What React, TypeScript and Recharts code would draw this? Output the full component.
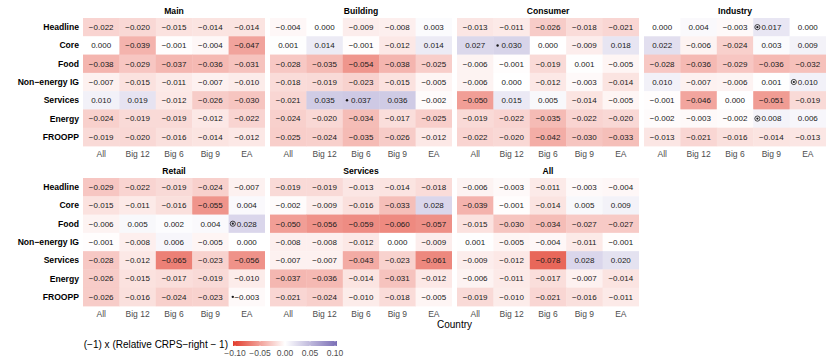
import React from "react";
import { ScatterChart, Scatter, XAxis, YAxis } from "recharts";

const countries = ["All", "Big 12", "Big 6", "Big 9", "EA"];
const variables = ["Headline", "Core", "Food", "Non−energy IG", "Services", "Energy", "FROOPP"];
const panelTitles = ["Main", "Building", "Consumer", "Industry", "Retail", "Services", "All"];

// rows follow `variables`, columns follow `countries`
const mainValues = [
  [-0.022, -0.02, -0.015, -0.014, -0.014],
  [0.0, -0.039, -0.001, -0.004, -0.047],
  [-0.038, -0.029, -0.037, -0.036, -0.031],
  [-0.007, -0.015, -0.011, -0.007, -0.01],
  [0.01, 0.019, -0.012, -0.026, -0.03],
  [-0.024, -0.019, -0.019, -0.012, -0.022],
  [-0.019, -0.02, -0.016, -0.014, -0.012],
];
const buildingValues = [
  [-0.004, 0.0, -0.009, -0.008, 0.003],
  [0.001, 0.014, -0.001, -0.012, 0.014],
  [-0.028, -0.035, -0.054, -0.038, -0.025],
  [-0.018, -0.019, -0.023, -0.015, -0.005],
  [-0.021, 0.035, 0.037, 0.036, -0.002],
  [-0.024, -0.02, -0.034, -0.017, -0.025],
  [-0.025, -0.024, -0.035, -0.026, -0.012],
];
const consumerValues = [
  [-0.013, -0.011, -0.026, -0.018, -0.021],
  [0.027, 0.03, 0.0, -0.009, 0.018],
  [-0.006, -0.001, -0.019, 0.001, -0.005],
  [-0.006, 0.0, -0.012, -0.003, -0.014],
  [-0.05, 0.015, 0.005, -0.014, -0.005],
  [-0.019, -0.022, -0.035, -0.022, -0.02],
  [-0.022, -0.02, -0.042, -0.03, -0.033],
];
const industryValues = [
  [0.0, 0.004, -0.003, 0.017, 0.0],
  [0.022, -0.006, -0.024, 0.003, 0.009],
  [-0.028, -0.036, -0.029, -0.036, -0.032],
  [0.01, -0.007, -0.006, 0.001, 0.01],
  [-0.001, -0.046, 0.0, -0.051, -0.019],
  [-0.002, -0.003, -0.002, 0.008, 0.006],
  [-0.013, -0.021, -0.016, -0.014, -0.013],
];
const retailValues = [
  [-0.029, -0.022, -0.019, -0.024, -0.007],
  [-0.015, -0.011, -0.016, -0.055, 0.004],
  [-0.006, 0.005, 0.002, 0.004, 0.028],
  [-0.001, -0.008, 0.006, -0.005, 0.0],
  [-0.028, -0.012, -0.065, -0.023, -0.056],
  [-0.026, -0.015, -0.017, -0.019, -0.01],
  [-0.026, -0.016, -0.024, -0.023, -0.003],
];
const servicesValues = [
  [-0.019, -0.019, -0.013, -0.014, -0.018],
  [-0.002, -0.009, -0.016, -0.033, 0.028],
  [-0.05, -0.056, -0.059, -0.06, -0.057],
  [-0.008, -0.008, -0.012, 0.0, -0.009],
  [-0.007, -0.007, -0.043, -0.023, -0.061],
  [-0.037, -0.036, -0.014, -0.031, -0.012],
  [-0.021, -0.024, -0.01, -0.018, -0.005],
];
const allValues = [
  [-0.006, -0.003, -0.011, -0.003, -0.004],
  [-0.039, -0.001, -0.014, 0.005, 0.009],
  [-0.015, -0.03, -0.034, -0.027, -0.027],
  [0.001, -0.005, -0.004, -0.011, -0.001],
  [-0.009, -0.012, -0.078, 0.028, 0.02],
  [-0.006, -0.011, -0.017, -0.007, -0.014],
  [-0.019, -0.01, -0.021, -0.016, -0.011],
];
const panelValues = [
  mainValues,
  buildingValues,
  consumerValues,
  industryValues,
  retailValues,
  servicesValues,
  allValues,
];

const markers = [
  { panel: "Building", variable: "Services", country: "Big 6", kind: "dot" },
  { panel: "Consumer", variable: "Core", country: "Big 12", kind: "dot" },
  { panel: "Industry", variable: "Headline", country: "Big 9", kind: "ring" },
  { panel: "Industry", variable: "Non−energy IG", country: "EA", kind: "ring" },
  { panel: "Industry", variable: "Energy", country: "Big 9", kind: "ring" },
  { panel: "Retail", variable: "Food", country: "EA", kind: "ring" },
  { panel: "Retail", variable: "FROOPP", country: "EA", kind: "dot" },
];

const legendTicks = [-0.1, -0.05, 0, 0.05, 0.1];

const FONT = '"Liberation Sans", Arial, Helvetica, sans-serif';
const LABEL_W = 83;
const PANEL_W = 182;
const GAP = 5;
const CELLS_H = 128;
const AXIS_H = 18;
const ROW_TOPS = [18, 178];
const CELL_W = PANEL_W / countries.length;
const CELL_H = CELLS_H / variables.length;

const LOW = [226, 60, 44];
const HIGH = [122, 110, 182];

function fillFor(v: number) {
  const t = Math.max(-1, Math.min(1, v / 0.1));
  const end = t < 0 ? LOW : HIGH;
  const a = Math.abs(t);
  const c = end.map((e) => Math.round(255 + (e - 255) * a));
  return `rgb(${c[0]},${c[1]},${c[2]})`;
}

function fmt(v: number, digits = 3) {
  const s = Math.abs(v).toFixed(digits);
  return v < 0 && Number(s) !== 0 ? "−" + s : s;
}

function TileShape(props: any) {
  const { cx, cy, payload } = props;
  if (cx == null || cy == null) return null;
  const mx = cx - 14;
  return (
    <g>
      <rect
        x={cx - CELL_W / 2}
        y={cy - CELL_H / 2}
        width={CELL_W + 0.4}
        height={CELL_H + 0.4}
        fill={fillFor(payload.value)}
      />
      {payload.mark === "dot" && <circle cx={mx} cy={cy} r={1.2} fill="#1a1a1a" />}
      {payload.mark === "ring" && (
        <g>
          <circle cx={mx} cy={cy} r={2.6} fill="none" stroke="#1a1a1a" strokeWidth={0.8} />
          <circle cx={mx} cy={cy} r={1.1} fill="#1a1a1a" />
        </g>
      )}
      <text
        x={cx}
        y={cy}
        dy="0.35em"
        textAnchor="middle"
        fontSize={8}
        fill="#1a1a1a"
        fontFamily={FONT}
      >
        {fmt(payload.value)}
      </text>
    </g>
  );
}

function RowTick(props: any) {
  const { x, y, payload } = props;
  return (
    <text
      x={x}
      y={y}
      dy="0.35em"
      textAnchor="end"
      fontSize={8.6}
      fontWeight="bold"
      fill="#000"
      fontFamily={FONT}
    >
      {variables[payload.value]}
    </text>
  );
}

function Panel({ index }: { index: number }) {
  const title = panelTitles[index];
  const values = panelValues[index];
  const col = index % 4;
  const row = Math.floor(index / 4);
  const withLabels = col === 0;
  const cellsLeft = LABEL_W + col * (PANEL_W + GAP);
  const chartLeft = withLabels ? 0 : cellsLeft;
  const width = (withLabels ? LABEL_W : 0) + PANEL_W;
  const top = ROW_TOPS[row];

  const cells = variables.flatMap((v, r) =>
    countries.map((c, k) => {
      const m = markers.find((x) => x.panel === title && x.variable === v && x.country === c);
      return { col: k, row: r, value: values[r][k], mark: m ? m.kind : null };
    })
  );

  return (
    <>
      <div
        style={{
          position: "absolute",
          left: cellsLeft,
          top: top - 12,
          width: PANEL_W,
          textAlign: "center",
          fontSize: 8.6,
          fontWeight: "bold",
          lineHeight: "11px",
          color: "#000",
        }}
      >
        {title}
      </div>
      <div style={{ position: "absolute", left: chartLeft, top }}>
        <ScatterChart
          width={width}
          height={CELLS_H + AXIS_H}
          margin={{ top: 0, right: 0, bottom: 0, left: 0 }}
        >
          <XAxis
            type="number"
            dataKey="col"
            domain={[-0.5, 4.5]}
            ticks={[0, 1, 2, 3, 4]}
            interval={0}
            tickFormatter={(i: number) => countries[i]}
            axisLine={false}
            tickLine={false}
            tickSize={0}
            tickMargin={5}
            height={AXIS_H}
            tick={{ fontSize: 8.5, fill: "#4d4d4d", fontFamily: FONT }}
          />
          <YAxis
            type="number"
            dataKey="row"
            domain={[-0.5, 6.5]}
            reversed
            ticks={[0, 1, 2, 3, 4, 5, 6]}
            interval={0}
            hide={!withLabels}
            width={withLabels ? LABEL_W : 0}
            axisLine={false}
            tickLine={false}
            tickSize={0}
            tickMargin={4}
            tick={<RowTick />}
          />
          <Scatter data={cells} shape={TileShape} isAnimationActive={false} />
        </ScatterChart>
      </div>
    </>
  );
}

function Legend() {
  const x0 = 235;
  const x1 = 335;
  const pos = (v: number) => x0 + ((v + 0.1) / 0.2) * (x1 - x0);
  const stops = [-0.1, -0.075, -0.05, -0.025, 0, 0.025, 0.05, 0.075, 0.1];
  return (
    <svg
      width={830}
      height={33}
      style={{ position: "absolute", left: 0, top: 330 }}
      fontFamily={FONT}
    >
      <defs>
        <linearGradient id="crpsGrad" x1="0" x2="1" y1="0" y2="0">
          {stops.map((s) => (
            <stop key={s} offset={(s + 0.1) / 0.2} stopColor={fillFor(s)} />
          ))}
        </linearGradient>
      </defs>
      <text x={228} y={14} dy="0.35em" textAnchor="end" fontSize={10} fill="#000">
        (−1) x (Relative CRPS−right − 1)
      </text>
      <rect x={x0 - 2} y={11} width={x1 - x0 + 4} height={5} fill="url(#crpsGrad)" />
      {legendTicks.map((t) => (
        <g key={t}>
          <line x1={pos(t)} x2={pos(t)} y1={11} y2={12} stroke="#fff" strokeWidth={0.5} />
          <line x1={pos(t)} x2={pos(t)} y1={15} y2={16} stroke="#fff" strokeWidth={0.5} />
          <text x={pos(t)} y={23} dy="0.35em" textAnchor="middle" fontSize={8.5} fill="#4d4d4d">
            {fmt(t, 2)}
          </text>
        </g>
      ))}
    </svg>
  );
}

export default function App() {
  return (
    <div
      style={{
        position: "absolute",
        left: 0,
        top: 0,
        width: 830,
        height: 363,
        background: "#fff",
        fontFamily: FONT,
        overflow: "hidden",
      }}
    >
      {panelTitles.map((t, i) => (
        <Panel key={t + i} index={i} />
      ))}
      <div
        style={{
          position: "absolute",
          left: LABEL_W,
          top: 319,
          width: 4 * PANEL_W + 3 * GAP,
          textAlign: "center",
          fontSize: 10,
          lineHeight: "12px",
          color: "#000",
        }}
      >
        Country
      </div>
      <Legend />
    </div>
  );
}
